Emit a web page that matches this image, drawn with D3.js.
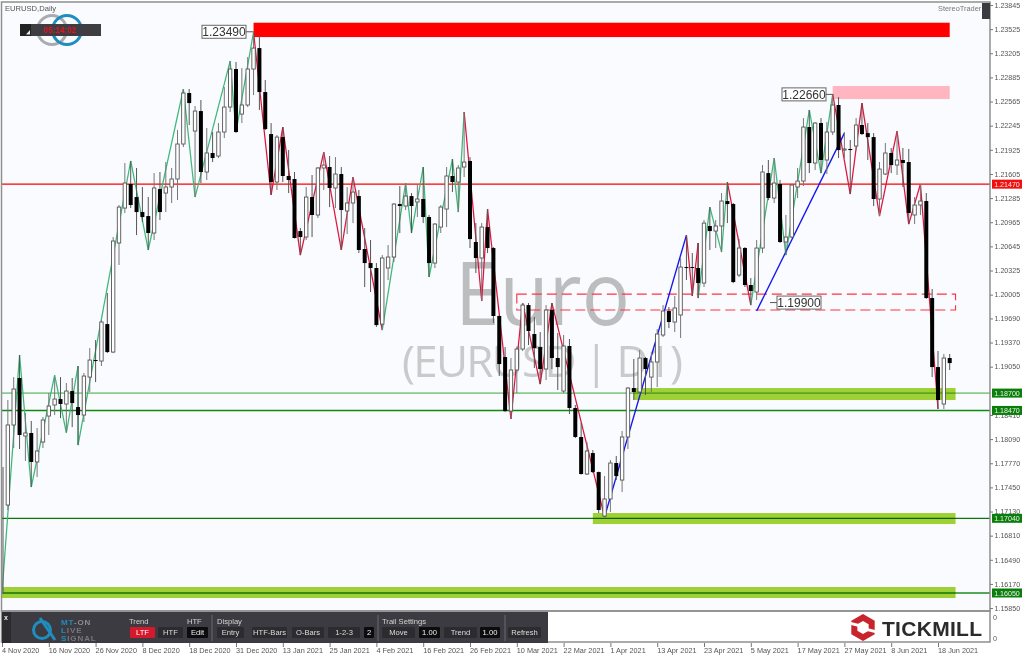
<!DOCTYPE html>
<html><head><meta charset="utf-8">
<script src="https://cdn.jsdelivr.net/npm/d3@7/dist/d3.min.js"></script>
<style>
html,body{margin:0;padding:0;background:#fff;overflow:hidden}
svg{display:block}
text{font-family:"Liberation Sans",Arial,sans-serif}
.axis text{fill:#555;font-size:7.1px}
.axis line{stroke:#777}
.axis path{display:none}
</style></head><body>
<svg id="c" width="1024" height="658"></svg>
<script>
const opens=[1.17216,1.17216,1.18277,1.18900,1.18131,1.18171,1.17787,1.18051,1.18396,1.18542,
1.18621,1.18555,1.18727,1.18515,1.18409,1.18912,1.19138,1.19125,1.19615,1.19244,
1.20690,1.21153,1.21472,1.21299,1.21100,1.21047,1.20822,1.21405,1.21352,1.21432,
1.21538,1.22002,1.22678,1.22174,1.22439,1.21631,1.21883,1.21843,1.22161,1.22492,
1.22996,1.22399,1.22519,1.22996,1.23274,1.22691,1.22134,1.21498,1.22094,1.21578,
1.21538,1.20848,1.20769,1.21299,1.21061,1.21684,1.21697,1.21419,1.21604,1.21114,
1.21220,1.21312,1.20610,1.20424,1.20358,1.19615,1.20358,1.20504,1.21206,1.21180,
1.21312,1.21233,1.21273,1.21034,1.20424,1.20901,1.21140,1.21578,1.21498,1.21697,
1.21777,1.20703,1.20491,1.20901,1.20623,1.19722,1.19178,1.18462,1.19006,1.19284,
1.19867,1.19483,1.19310,1.19019,1.19801,1.19165,1.18727,1.19324,1.18502,1.18118,
1.17627,1.17905,1.17653,1.17070,1.17296,1.17773,1.17547,1.18118,1.18767,1.18714,
1.19165,1.18912,1.19112,1.19470,1.19788,1.19642,1.19735,1.20371,1.20371,1.20358,
1.20159,1.20915,1.20848,1.20915,1.21246,1.21206,1.20265,1.20623,1.20133,1.20040,
1.20623,1.21617,1.21286,1.21472,1.20703,1.20769,1.21432,1.21511,1.22227,1.21750,
1.22280,1.21790,1.22161,1.22519,1.21922,1.21936,1.21975,1.22254,1.22147,1.22094,
1.21273,1.21604,1.21883,1.21723,1.21790,1.21763,1.21061,1.21193,1.21246,1.19960,
1.19045,1.18555,1.19165];
const closes=[1.17123,1.18277,1.18754,1.18144,1.18171,1.17787,1.17932,1.18343,1.18528,1.18621,
1.18555,1.18727,1.18568,1.18409,1.18926,1.19138,1.19125,1.19642,1.19244,1.20716,
1.21166,1.21485,1.21193,1.21100,1.21034,1.20822,1.21419,1.21100,1.21432,1.21538,
1.22002,1.22678,1.22545,1.22439,1.21631,1.21883,1.21816,1.22161,1.22492,1.22996,
1.22161,1.22519,1.22996,1.23274,1.22691,1.22200,1.21498,1.22094,1.21578,1.21525,
1.20756,1.20769,1.21299,1.21061,1.21684,1.21723,1.21419,1.21604,1.21127,1.21220,
1.21365,1.20597,1.20424,1.20358,1.19602,1.20491,1.20504,1.21206,1.21180,1.21312,
1.21180,1.21273,1.21034,1.20424,1.20941,1.21166,1.21578,1.21498,1.21684,1.21763,
1.20742,1.20491,1.20901,1.20623,1.19722,1.19085,1.18462,1.19006,1.19284,1.19867,
1.19523,1.19297,1.19019,1.19801,1.19165,1.19045,1.19324,1.18502,1.18118,1.17627,
1.17932,1.17653,1.17150,1.17296,1.17773,1.17600,1.18118,1.18767,1.18714,1.19165,
1.19019,1.19112,1.19483,1.19788,1.19642,1.19828,1.20371,1.20358,1.20358,1.20159,
1.20954,1.20848,1.20915,1.21246,1.21206,1.20172,1.20623,1.20133,1.20053,1.20623,
1.21631,1.21286,1.21485,1.20703,1.20769,1.21458,1.21511,1.22227,1.21750,1.22280,
1.21790,1.22161,1.22519,1.21922,1.21936,1.21922,1.22254,1.22134,1.22094,1.21273,
1.21670,1.21883,1.21723,1.21790,1.21750,1.21087,1.21193,1.21246,1.19960,1.19045,
1.18608,1.19165,1.19098];
const highs=[1.17720,1.18608,1.18912,1.19205,1.18435,1.18330,1.18237,1.18383,1.18701,1.18912,
1.18912,1.18833,1.18900,1.19059,1.18966,1.19297,1.19403,1.19669,1.20027,1.20769,
1.21193,1.21750,1.21777,1.21684,1.21432,1.21299,1.21617,1.21631,1.21763,1.21684,
1.22187,1.22731,1.22731,1.22506,1.22585,1.22214,1.22161,1.22280,1.22757,1.23102,
1.23089,1.23009,1.23155,1.23487,1.23447,1.22850,1.22280,1.22121,1.22227,1.21922,
1.21631,1.20888,1.21432,1.21591,1.21697,1.21896,1.21843,1.21829,1.21697,1.21432,
1.21564,1.21392,1.20888,1.20729,1.20424,1.20530,1.20663,1.21220,1.21445,1.21485,
1.21352,1.21458,1.21697,1.21061,1.20954,1.21193,1.21697,1.21803,1.21723,1.22426,
1.21829,1.20954,1.20954,1.21140,1.20636,1.19735,1.19310,1.19165,1.19310,1.19894,
1.19894,1.19708,1.19509,1.19867,1.19894,1.19496,1.19470,1.19417,1.18542,1.18303,
1.18051,1.17945,1.17660,1.17600,1.17813,1.17866,1.18197,1.18780,1.19152,1.19271,
1.19178,1.19231,1.19549,1.19867,1.19841,1.19987,1.20491,1.20795,1.20557,1.20690,
1.20994,1.21166,1.20994,1.21352,1.21498,1.21220,1.20742,1.20636,1.20225,1.20729,
1.21723,1.21790,1.21816,1.21525,1.21061,1.21472,1.21684,1.22346,1.22453,1.22293,
1.22346,1.22293,1.22665,1.22625,1.22161,1.22055,1.22346,1.22545,1.22280,1.22147,
1.21763,1.22015,1.21949,1.22174,1.21949,1.21936,1.21299,1.21472,1.21352,1.20080,
1.19258,1.19218,1.19218];
const lows=[1.16049,1.17150,1.17972,1.17959,1.17800,1.17455,1.17587,1.17972,1.18144,1.18409,
1.18369,1.18184,1.18250,1.18011,1.18316,1.18714,1.18846,1.19059,1.19231,1.19230,
1.20398,1.21087,1.21153,1.20795,1.20967,1.20597,1.20729,1.20994,1.21100,1.21220,
1.21259,1.21962,1.22254,1.21299,1.21485,1.21525,1.21763,1.21816,1.22081,1.22426,
1.22150,1.22280,1.22492,1.22651,1.22453,1.22187,1.21326,1.21392,1.21498,1.21352,
1.20750,1.20530,1.20729,1.20769,1.21021,1.21392,1.21166,1.21153,1.20597,1.20809,
1.20954,1.20557,1.20106,1.20040,1.19576,1.19536,1.20199,1.20438,1.20822,1.21127,
1.20822,1.21034,1.20954,1.20239,1.20358,1.20822,1.20901,1.21365,1.21100,1.21564,
1.20623,1.20292,1.19920,1.20557,1.19629,1.18926,1.18449,1.18356,1.18701,1.19258,
1.19337,1.19032,1.18820,1.18873,1.19019,1.18741,1.18701,1.18422,1.18104,1.17620,
1.17614,1.17640,1.17110,1.17057,1.17123,1.17547,1.17388,1.17959,1.18608,1.18674,
1.18674,1.18714,1.18780,1.19443,1.19562,1.19509,1.19430,1.20199,1.19987,1.19960,
1.20106,1.20597,1.20623,1.20570,1.20954,1.20159,1.20239,1.20106,1.19867,1.19934,
1.20557,1.21259,1.21220,1.20690,1.20530,1.20756,1.21286,1.21445,1.21617,1.21657,
1.21617,1.21604,1.22121,1.21816,1.21816,1.21339,1.21922,1.22121,1.21790,1.21180,
1.21047,1.21591,1.21617,1.21591,1.21432,1.20941,1.20941,1.21061,1.19950,1.18912,
1.18489,1.18489,1.19006];

const legBars=[0,3,5,9,11,13,13,22,25,31,33,39,40,43,46,48,51,55,58,60,65,69,70,72,73,77,78,79,82,83,87,89,92,94,103,117,118,119,119,121,123,124,128,132,134,138,140,142,145,147,150,153,155,157,160];
const legPrices=[1.16049,1.19205,1.17455,1.18939,1.18171,1.19059,1.18011,1.21777,1.20597,1.22731,1.21299,1.23102,1.22161,1.23487,1.21326,1.22227,1.20530,1.21896,1.20597,1.21564,1.19536,1.21485,1.20822,1.21697,1.20239,1.21803,1.21100,1.22426,1.19920,1.21140,1.18356,1.19894,1.18820,1.19894,1.17057,1.20795,1.19987,1.20690,1.19960,1.21166,1.20570,1.21498,1.19867,1.21816,1.20530,1.22453,1.21617,1.22665,1.21339,1.22545,1.21047,1.22174,1.20941,1.21472,1.18489];
const legKinds="ggggggggggggg rrrrrrr ggggggg rrrrrrr b rrr ggg r ggggg rrrrrrr".replace(/ /g,"");
const trendBars=[129,144];
const trendPrices=[1.19788,1.22147];

const dateLabels=["4 Nov 2020","16 Nov 2020","26 Nov 2020","8 Dec 2020","18 Dec 2020","31 Dec 2020","13 Jan 2021","25 Jan 2021","4 Feb 2021","16 Feb 2021","26 Feb 2021","10 Mar 2021","22 Mar 2021","1 Apr 2021","13 Apr 2021","23 Apr 2021","5 May 2021","17 May 2021","27 May 2021","8 Jun 2021","18 Jun 2021"];
const dateBars=[0,8,16,24,32,40,48,56,64,72,80,88,96,104,112,120,128,136,144,152,160];
const priceTicks=[1.23845,1.23525,1.23205,1.22885,1.22565,1.22245,1.21925,1.21605,1.21285,1.20965,1.20645,1.20325,1.20005,1.19690,1.19370,1.19050,1.18410,1.18090,1.17770,1.17450,1.17130,1.16810,1.16490,1.16170,1.15850];

const zoneNames=["supply","minor","pivot","mid","low","base"];
const zoneFrom=[43,142,88,108,101,0];
const zoneTo=[162,162,163,163,163,163];
const zoneTop=[1.2361,1.22771,1.20013,1.18767,1.1711,1.16129];
const zoneBottom=[1.2342,1.22598,1.19801,1.18608,1.16964,1.15983];

const levelPrices=[1.2147,1.187,1.1847,1.1704,1.1605];
const calloutPrices=[1.2349,1.2266,1.199];
const calloutBars=[43,142,130];

const frameL=2,frameR=990,frameT=3,frameB=611;
const svg=d3.select("#c");
const y=d3.scaleLinear().domain([1.23845,1.1585]).range([5,608.07]);
const x=d3.scaleLinear().domain([0,162]).range([2,949.7]);

svg.append("defs").append("clipPath").attr("id","plot").append("rect").attr("x",frameL).attr("y",frameT).attr("width",frameR-frameL).attr("height",frameB-frameT);

svg.append("rect").attr("x",frameL).attr("y",frameT).attr("width",frameR-frameL).attr("height",frameB-frameT).attr("fill","#f9fbfe");
svg.append("rect").attr("x",frameL).attr("y",frameB).attr("width",frameR-frameL).attr("height",642-frameB).attr("fill","#fff");

// watermark
svg.append("text").attr("x",455).attr("y",325).attr("font-size",88).attr("fill","#bcbdbe").attr("textLength",175).attr("lengthAdjust","spacingAndGlyphs").style("font-family","'Open Sans'").text("Euro");
svg.append("text").attr("x",402).attr("y",377).attr("font-size",44).attr("fill","#c9cacb").attr("textLength",281).style("font-family","'Open Sans'").text("(EURUSD | D1)");

// zones
const zoneFill=["#ff0000","#ffb6c1",null,"#9fd036","#9fd036","#9fd036"];
zoneNames.forEach((n,i)=>{
  if(n==="pivot")return;
  svg.append("rect").attr("x",x(zoneFrom[i])).attr("width",x(zoneTo[i])-x(zoneFrom[i]))
    .attr("y",y(zoneTop[i])).attr("height",y(zoneBottom[i])-y(zoneTop[i])).attr("fill",zoneFill[i]);
});
const pv=zoneNames.indexOf("pivot");
svg.append("rect").attr("x",x(zoneFrom[pv])).attr("width",x(zoneTo[pv])-x(zoneFrom[pv]))
  .attr("y",y(zoneTop[pv])).attr("height",y(zoneBottom[pv])-y(zoneTop[pv]))
  .attr("fill","none").attr("stroke","#ff3344").attr("stroke-width",1.15).attr("stroke-dasharray","10 5");

// levels
const levelColor=["#ff0000","#8fcf8f","#118a11","#0a7d0a","#1f8f1f"];
const levelWidth=[1.4,1.6,1.4,1.3,1.3];
levelPrices.forEach((p,i)=>{
  svg.append("line").attr("x1",frameL).attr("x2",frameR).attr("y1",y(p)).attr("y2",y(p))
    .attr("stroke",levelColor[i]).attr("stroke-width",levelWidth[i]).style("mix-blend-mode",i?"multiply":"normal");
});

// zigzag
const line=d3.line().x(d=>x(d[0])).y(d=>y(d[1]));
const legColor={g:"#3cb878",r:"#dc143c",b:"#1414f0"};
legKinds.split("").forEach((k,i)=>{
  svg.append("path").attr("d",line([[legBars[i],legPrices[i]],[legBars[i+1],legPrices[i+1]]]))
    .attr("fill","none").attr("stroke",legColor[k]).attr("stroke-width",k==="b"?1.35:1.25);
});
svg.append("path").attr("d",line(trendBars.map((b,i)=>[b,trendPrices[i]]))).attr("fill","none").attr("stroke",legColor.b).attr("stroke-width",1.35);

// candles
const bars=opens.map((o,i)=>({i,o,c:closes[i],h:highs[i],l:lows[i]}));
const g=svg.append("g").attr("clip-path","url(#plot)");
g.selectAll("line").data(bars).join("line")
  .attr("x1",d=>x(d.i)+(d.i===0?1:0)).attr("x2",d=>x(d.i)+(d.i===0?1:0)).attr("y1",d=>y(d.h)).attr("y2",d=>y(d.l))
  .attr("stroke",d=>d.c>=d.o?"#777":"#555").attr("stroke-width",1);
g.selectAll("rect").data(bars.slice(1)).join("rect")
  .attr("x",d=>x(d.i)-(d.c>=d.o?1.7:2)).attr("width",d=>d.c>=d.o?3.4:4)
  .attr("y",d=>y(Math.max(d.o,d.c))).attr("height",d=>Math.max(1,Math.abs(y(d.o)-y(d.c))))
  .attr("fill",d=>d.c>=d.o?"#fff":"#000").attr("stroke",d=>d.c>=d.o?"#555":"none").attr("stroke-width",.9);

// frame
const frame=svg.append("g").attr("fill","none").attr("stroke","#8f8f8f").attr("stroke-width",1.5);
frame.append("rect").attr("x",1.5).attr("y",2).attr("width",frameR-1.5).attr("height",frameB-2);
frame.append("rect").attr("x",1.5).attr("y",frameB).attr("width",frameR-1.5).attr("height",642-frameB);

// axes
const yAxis=d3.axisRight(y).tickValues(priceTicks).tickFormat(d3.format(".5f")).tickSize(3).tickPadding(1.5);
svg.append("g").attr("class","axis").attr("transform",`translate(${frameR},0)`).call(yAxis);
const xAxis=d3.axisBottom(x).tickValues(dateBars).tickFormat((d,i)=>dateLabels[i]).tickSize(4).tickPadding(1);
const xg=svg.append("g").attr("class","axis").attr("transform","translate(0,643)").call(xAxis);
xg.selectAll("text").attr("text-anchor","start").attr("dx",-.5).style("font-size","7.3px");

// level labels
const labelText=["1.21470","1.18700","1.18470","1.17040","1.16050"];
const labelFill=["#f01010","#0a7d0a","#0a7d0a","#0a7d0a","#0a7d0a"];
labelText.forEach((t,i)=>{
  const yy=y(levelPrices[i]);
  svg.append("rect").attr("x",992).attr("y",yy-4.5).attr("width",30).attr("height",9).attr("fill",labelFill[i]);
  svg.append("text").attr("x",1007).attr("y",yy+2.6).attr("text-anchor","middle").attr("font-size",7.1).attr("fill",i?"#e8f3e8":"#fbe9e9").text(t);
});

// callouts
const boxX=[202,782,777];
calloutPrices.forEach((p,i)=>{
  const yy=y(p);
  const gx=svg.append("g");
  gx.append("line").attr("x1",i===2?boxX[i]:boxX[i]+44).attr("x2",i===2?boxX[i]-7:x(calloutBars[i])).attr("y1",yy).attr("y2",yy).attr("stroke","#555").attr("stroke-width",1);
  gx.append("rect").attr("x",boxX[i]).attr("y",yy-6.5).attr("width",44).attr("height",13).attr("fill","#fff").attr("stroke","#666").attr("stroke-width",1);
  gx.append("text").attr("x",boxX[i]+22).attr("y",yy+4.3).attr("text-anchor","middle").attr("font-size",12).attr("fill","#333").text(d3.format(".5f")(p));
});

// header
svg.append("text").attr("x",5).attr("y",10.5).attr("font-size",7.6).attr("fill","#555").text("EURUSD,Daily");
svg.append("text").attr("x",938).attr("y",10.5).attr("font-size",7.4).attr("fill","#777").text("StereoTrader (");
svg.append("rect").attr("x",982).attr("y",3).attr("width",8).attr("height",16).attr("fill","#3a3a40");

// clock badge
[[52,"#a9abae"],[67,"#1f8ebf"]].forEach(([cx,col])=>{
  svg.append("circle").attr("cx",cx).attr("cy",30).attr("r",14.5).attr("fill","none").attr("stroke",col).attr("stroke-width",3);
});
svg.append("rect").attr("x",20).attr("y",24).attr("width",81).attr("height",12).attr("fill","#3d3d42");
svg.append("rect").attr("x",20).attr("y",24).attr("width",11).attr("height",12).attr("fill","#222");
svg.append("path").attr("d","M26 34.5 L30 34.5 L30 30 Z").attr("fill","#eee");
svg.append("text").attr("x",60).attr("y",32.8).attr("text-anchor","middle").attr("font-size",8.2).attr("font-weight","bold").attr("fill","#e8141c").text("05:14:02");

// trade panel
const panel=svg.append("g");
panel.append("rect").attr("x",2).attr("y",612).attr("width",546).attr("height",31).attr("fill","#3b3b41");
panel.append("rect").attr("x",2).attr("y",612).attr("width",9).attr("height",31).attr("fill","#2b2b30");
panel.append("text").attr("x",4).attr("y",620).attr("font-size",7).attr("font-weight","bold").attr("fill","#eee").text("x");
const panelLabels=[["Trend",129],["HTF",187],["Display",217],["Trail Settings",382]];
panelLabels.forEach(([t,px])=>panel.append("text").attr("x",px).attr("y",624).attr("font-size",7.6).attr("fill","#d4d4d4").text(t));
const buttons=[["LTF",130,25,"#d6182c","#fff"],["HTF",158,25,"#2b2b30","#ddd"],["Edit",187,21,"#0c0c0e","#eee"],["Entry",217,27,"#2b2b30","#ddd"],["HTF-Bars",252,35,"#2b2b30","#ddd"],["O-Bars",292,32,"#2b2b30","#ddd"],["1-2-3",328,32,"#2b2b30","#ddd"],["2",364,10,"#0c0c0e","#eee"],["Move",382,33,"#2b2b30","#ddd"],["1.00",419,21,"#0c0c0e","#eee"],["Trend",444,33,"#2b2b30","#ddd"],["1.00",480,20,"#0c0c0e","#eee"],["Refresh",508,33,"#2b2b30","#ddd"]];
buttons.forEach(([t,bx,bw,fill,col])=>{
  panel.append("rect").attr("x",bx).attr("y",627).attr("width",bw).attr("height",11).attr("rx",1).attr("fill",fill);
  panel.append("text").attr("x",bx+bw/2).attr("y",635.2).attr("text-anchor","middle").attr("font-size",7.6).attr("fill",col).text(t);
});
[212,378,505].forEach(sx=>panel.append("line").attr("x1",sx).attr("x2",sx).attr("y1",615).attr("y2",641).attr("stroke","#6a6a70"));
// MT-ON logo
panel.append("circle").attr("cx",42).attr("cy",630).attr("r",8.5).attr("fill","none").attr("stroke","#1f8ebf").attr("stroke-width",3);
panel.append("path").attr("d","M40 618 L55 640").attr("stroke","#1f8ebf").attr("stroke-width",3);
panel.append("text").attr("x",61).attr("y",624.5).attr("font-size",8).attr("font-weight","bold").attr("letter-spacing",.9).attr("fill","#1f8ebf").text("MT").append("tspan").attr("fill","#8d8d92").text("-ON");
panel.append("text").attr("x",61).attr("y",632.5).attr("font-size",8).attr("font-weight","bold").attr("letter-spacing",.9).attr("fill","#1f8ebf").text("L").append("tspan").attr("fill","#77777c").text("IVE");
panel.append("text").attr("x",61).attr("y",640.5).attr("font-size",8).attr("font-weight","bold").attr("letter-spacing",.9).attr("fill","#1f8ebf").text("S").append("tspan").attr("fill","#77777c").text("IGNAL");

// indicator sub-axis
[["0",620],["0",641]].forEach(([t,ty])=>svg.append("text").attr("x",993).attr("y",ty).attr("font-size",7.2).attr("fill","#555").text(t));

// Tickmill logo
const hex=(cx,cy,r)=>d3.range(6).map(k=>{const a=Math.PI/3*k-Math.PI/2;return[cx+r*Math.cos(a),cy+r*Math.sin(a)];});
const lgn=d3.line();
const tm=svg.append("g");
tm.append("path").attr("d",lgn(hex(863,627.5,13.5))+"Z").attr("fill","#c8242d");
tm.append("path").attr("d",lgn(hex(863,627.5,6.5))+"Z").attr("fill","#fff");
tm.append("path").attr("d","M851 622 L859 624 L859 627 L851 625 Z").attr("fill","#fff");
tm.append("path").attr("d","M875 633 L867 631 L867 628 L875 630 Z").attr("fill","#fff");
tm.append("text").attr("x",882).attr("y",635.5).attr("font-size",21).attr("font-weight","bold").attr("fill","#2b2b2b").attr("textLength",100).attr("lengthAdjust","spacing").text("TICKMILL");
</script>
</body></html>
